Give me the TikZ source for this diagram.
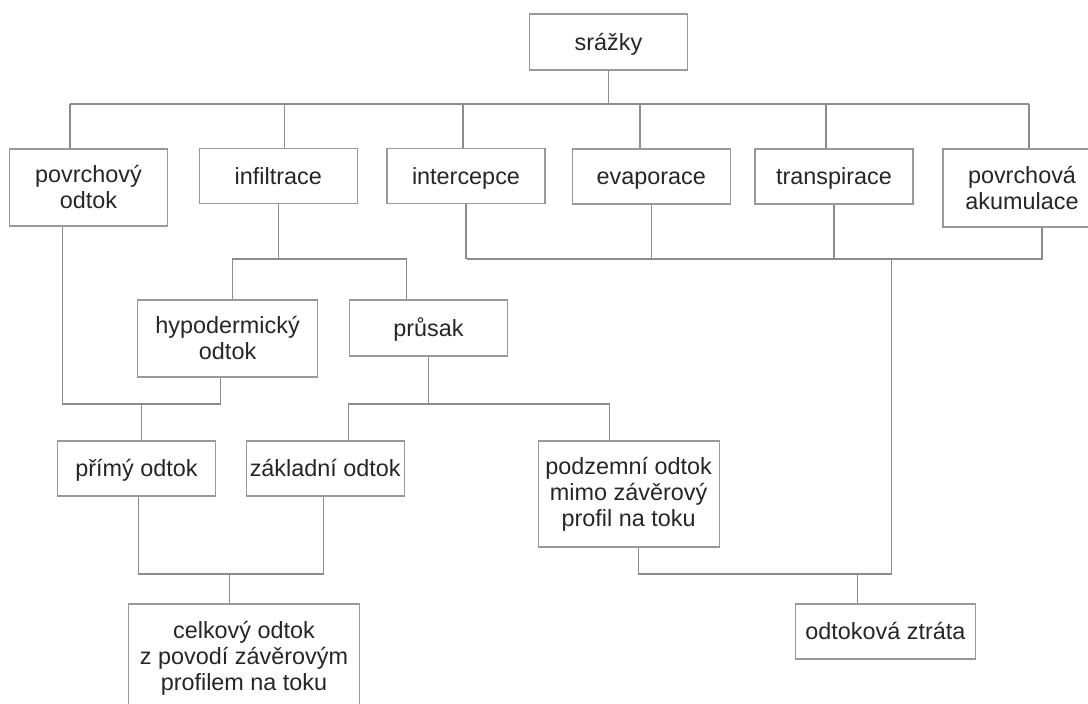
\documentclass[tikz,border=0pt]{standalone}
\usepackage{fontspec}
\setmainfont{Liberation Sans}
\usetikzlibrary{calc}

\begin{document}
\begin{tikzpicture}[x=0.5pt,y=-0.5pt,
    box/.style={draw=black!40, line width=0.6pt, fill=white, text=black!85, align=center,
        font=\fontsize{11.7}{13}\selectfont, inner sep=0pt, minimum width=79pt, minimum height=27.5pt},
    oneline/.style={box, text height=10pt, text depth=1.5pt},
    link/.style={draw=black!45, line width=0.6pt}]
    \clip (0,0) rectangle (1088,704);
    \node[oneline, minimum height=28pt] (srazky) at (608.5,42) {srážky};
    \node[box, minimum height=38.5pt] (povrch) at (88.5,187.5) {povrchový\\odtok};
    \node[oneline] (infil) at (278.3,176) {infiltrace};
    \node[oneline] (interc) at (466,176) {intercepce};
    \node[oneline] (evapo) at (651.2,176.5) {evaporace};
    \node[oneline] (transp) at (834,176.5) {transpirace};
    \node[box, minimum height=39pt] (akum) at (1022,188) {povrchová\\akumulace};
    \node[box, minimum width=90pt, minimum height=38.5pt] (hypo) at (227.6,338.5) {hypodermický\\odtok};
    \node[oneline, minimum height=28pt] (prusak) at (428.5,328) {průsak};
    \node[oneline] (primy) at (136.4,468.5) {přímý odtok};
    \node[oneline] (zakl) at (325.2,468.5) {základní odtok};
    \node[box, minimum width=90.5pt, minimum height=53pt] (podzem) at (628.6,494) {podzemní odtok\\mimo závěrový\\profil na toku};
    \node[box, minimum width=115.5pt, minimum height=54pt] (celk) at (244,658) {celkový odtok\\z povodí závěrovým\\profilem na toku};
    \node[oneline, minimum width=90pt] (ztrata) at (885.4,631.5) {odtoková ztráta};

    \coordinate (t1) at (70,104);
    \coordinate (t2) at (284.5,104);
    \coordinate (t3) at (463,104);
    \coordinate (t4) at (640,104);
    \coordinate (t5) at (826,104);
    \coordinate (t6) at (1029,104);
    \draw[link] (srazky.south) -- (srazky.south |- t1);
    \draw[link] (t1) -- (t6);
    \foreach \c/\n in {t1/povrch, t2/infil, t3/interc, t4/evapo, t5/transp, t6/akum}
        \draw[link] (\c) -- (\c |- \n.north);

    \coordinate (i1) at (232.5,259);
    \coordinate (i2) at (406.7,259);
    \draw[link] (infil.south) -- (infil.south |- i1);
    \draw[link] (i1 |- hypo.north) -- (i1) -- (i2) -- (i2 |- prusak.north);

    \coordinate (r1) at (466.7,259);
    \coordinate (r4) at (1042,259);
    \coordinate (rd) at (891.7,259);
    \draw[link] (r1) -- (r4) -- (r4 |- akum.south);
    \foreach \n in {interc, evapo, transp}
        \draw[link] (\n.south) -- (\n.south |- r1);

    \coordinate (a1) at (62.5,404);
    \coordinate (a2) at (220.7,404);
    \coordinate (a3) at (141.6,404);
    \draw[link] (a1 |- povrch.south) -- (a1) -- (a2) -- (a2 |- hypo.south);
    \draw[link] (a3) -- (a3 |- primy.north);

    \coordinate (b1) at (348.7,404);
    \coordinate (b2) at (609.2,404);
    \draw[link] (prusak.south) -- (prusak.south |- b1);
    \draw[link] (b1 |- zakl.north) -- (b1) -- (b2) -- (b2 |- podzem.north);

    \coordinate (c1) at (138.8,574);
    \coordinate (c2) at (323.4,574);
    \coordinate (c3) at (229.7,574);
    \draw[link] (c1 |- primy.south) -- (c1) -- (c2) -- (c2 |- zakl.south);
    \draw[link] (c3) -- (c3 |- celk.north);

    \coordinate (d1) at (638.4,574);
    \coordinate (d2) at (891.7,574);
    \coordinate (d3) at (857.3,574);
    \draw[link] (d1 |- podzem.south) -- (d1) -- (d2) -- (rd);
    \draw[link] (d3) -- (d3 |- ztrata.north);
\end{tikzpicture}
\end{document}
